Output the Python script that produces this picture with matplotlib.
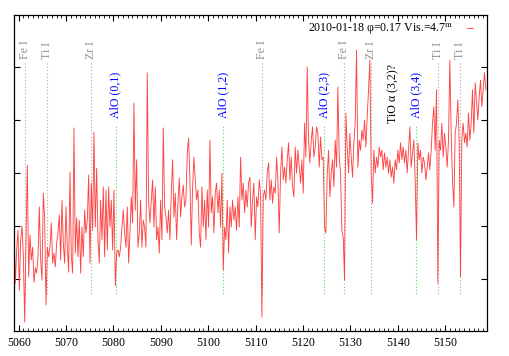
#spectrum plot around 5060-5160 A
#fluxes (arbitrary units)

import numpy as np
import matplotlib
matplotlib.use("Agg")
import matplotlib.pyplot as plt

plt.rcParams['font.family'] = ['Liberation Serif', 'DejaVu Serif']
plt.rcParams['mathtext.fontset'] = 'stix'

#the spectrum, evenly sampled from 5059.0 to 5158.6 A
waveStart = 5059.0
waveEnd = 5158.6
flux = [
    2.02, 0.92, 1.55, 1.92, 0.79, 1.74, 2.00, 1.45, 0.19, 1.74,
    3.15, 1.04, 1.83, 1.36, 1.60, 0.94, 1.21, 1.11, 1.42, 2.36,
    1.36, 0.98, 2.62, 2.15, 0.51, 1.60, 1.42, 1.60, 2.06, 1.30,
    1.49, 1.23, 1.68, 1.87, 2.21, 1.36, 2.49, 1.68, 1.30, 2.36,
    1.60, 1.13, 3.02, 1.42, 1.11, 3.85, 1.49, 2.15, 1.42, 2.11,
    1.11, 1.98, 1.42, 2.30, 1.87, 2.11, 2.96, 1.30, 2.81, 1.92,
    3.77, 1.98, 3.09, 1.74, 1.30, 2.49, 1.74, 2.74, 1.42, 2.68,
    1.55, 2.74, 1.98, 2.49, 1.55, 2.68, 0.87, 1.49, 1.55, 1.42,
    1.60, 1.98, 2.30, 1.87, 1.60, 2.36, 1.30, 1.87, 2.55, 2.06,
    4.32, 2.30, 3.25, 1.60, 1.87, 2.49, 1.60, 2.11, 1.98, 1.60,
    4.89, 2.43, 2.06, 2.49, 2.87, 1.98, 2.74, 1.74, 1.98, 1.49,
    2.49, 1.74, 3.85, 2.36, 2.17, 1.87, 2.30, 1.74, 2.62, 3.25,
    2.17, 2.62, 1.74, 2.43, 2.91, 2.17, 2.55, 2.77, 2.36, 2.49,
    3.38, 3.66, 2.87, 1.64, 2.74, 3.30, 2.87, 2.49, 2.68, 1.87,
    1.60, 2.74, 1.98, 2.49, 1.74, 2.68, 1.98, 3.62, 2.25, 2.55,
    1.87, 2.62, 2.81, 2.25, 2.68, 1.98, 3.00, 1.17, 1.98, 1.74,
    2.49, 1.49, 2.36, 1.98, 2.49, 2.11, 2.36, 1.92, 2.55, 1.98,
    3.30, 2.49, 2.81, 2.25, 2.68, 2.36, 2.81, 2.92, 1.98, 2.49,
    2.81, 1.74, 2.55, 2.36, 2.87, 2.62, 0.28, 2.55, 2.68, 2.49,
    3.00, 3.19, 2.49, 2.87, 2.43, 2.74, 2.62, 3.30, 2.87, 1.87,
    3.00, 3.49, 2.87, 3.11, 2.81, 3.25, 3.57, 2.87, 3.30, 2.74,
    2.55, 3.49, 3.00, 3.43, 3.11, 2.81, 3.25, 2.62, 3.94, 3.30,
    5.00, 3.62, 3.19, 3.62, 3.87, 3.30, 3.49, 3.87, 3.75, 3.11,
    3.68, 3.25, 3.30, 1.98, 1.87, 2.96, 3.43, 2.55, 3.00, 3.25,
    2.74, 3.62, 3.11, 4.62, 3.30, 3.00, 1.92, 1.79, 0.98, 4.13,
    3.49, 3.00, 3.75, 3.30, 2.92, 3.57, 3.94, 5.32, 3.11, 3.62,
    3.43, 3.81, 3.62, 4.00, 3.49, 4.06, 4.57, 5.13, 3.00, 2.43,
    3.43, 3.00, 3.30, 3.11, 3.49, 3.30, 3.43, 3.06, 3.38, 3.11,
    3.30, 3.00, 3.25, 2.92, 3.11, 2.81, 3.25, 3.06, 3.43, 3.19,
    3.57, 3.25, 3.49, 3.19, 3.43, 3.00, 3.43, 3.87, 3.11, 3.38,
    3.62, 2.87, 1.74, 3.57, 3.25, 3.43, 3.00, 3.30, 3.19, 2.87,
    3.11, 3.38, 3.06, 3.43, 3.94, 4.25, 3.43, 4.57, 0.92, 3.62,
    3.43, 3.94, 3.30, 3.75, 3.49, 3.11, 3.62, 5.13, 3.75, 2.87,
    2.36, 3.75, 3.94, 4.38, 3.62, 1.04, 3.62, 3.94, 3.57, 3.75,
    3.49, 4.13, 3.62, 3.94, 4.57, 3.75, 4.70, 4.38, 4.00, 4.43,
    4.75, 4.25, 4.57, 4.89, 4.57,
]
wave = np.linspace(waveStart, waveEnd, len(flux))

#atomic lines (grey) and molecular bands (blue label, green line)
atomNames = ["Fe I", "Ti I", "Zr I", "Fe I", "Fe I", "Zr I", "Ti I", "Ti I"]
atomWaves = [5061.3, 5065.9, 5075.15, 5111.4, 5128.75, 5134.3, 5148.45, 5153.15]
bandNames = ["AlO (0,1)", "AlO (1,2)", "AlO (2,3)", "AlO (3,4)"]
bandWaves = [5080.45, 5103.2, 5124.4, 5143.95]
tioName = "TiO \u03b1 (3,2)?"
tioWave = 5139.0

legendText = "2010-01-18 \u03c6=0.17 Vis.=4.7$^{\\mathrm{m}}$"

fig = plt.figure(figsize=(5.09, 3.56), dpi=100)
ax = fig.add_axes([0.0275, 0.0702, 0.9293, 0.8877])

for w in atomWaves:
    ax.plot([w, w], [0.72, 5.1], color="#a8a8a8", lw=0.8, ls=(0, (1, 2)))
for w in bandWaves:
    ax.plot([w, w], [0.72, 3.9], color="#55dd55", lw=0.8, ls=(0, (1, 2)))

ax.plot(wave, flux, color="#ff3030", lw=0.65, alpha=0.9, label=legendText)

for name, w in zip(atomNames, atomWaves):
    ax.text(w, 5.15, name, rotation=90, ha="center", va="bottom",
            color="#909090", fontsize=8.6)
for name, w in zip(bandNames, bandWaves):
    ax.text(w, 4.04, name, rotation=90, ha="center", va="bottom",
            color="blue", fontsize=8.6)
ax.text(tioWave, 3.95, tioName, rotation=90, ha="center", va="bottom",
        color="black", fontsize=8.6)

ax.set_xlim(5059.05, 5158.85)
ax.set_ylim(0.02, 5.98)
ax.set_xticks(np.arange(5060, 5151, 10))
ax.set_xticks(np.arange(5059, 5159, 1), minor=True)
ax.set_yticks([1, 2, 3, 4, 5])
ax.set_yticklabels([])
ax.tick_params(axis="x", which="major", direction="in", top=True,
               length=4, width=0.8, labelsize=8.6, pad=4)
ax.tick_params(axis="x", which="minor", direction="in", top=True,
               length=2, width=0.6)
ax.tick_params(axis="y", which="major", direction="in", right=True,
               length=4.5, width=0.8)
for s in ax.spines.values():
    s.set_linewidth(0.9)

leg = ax.legend(loc="upper right", bbox_to_anchor=(0.970, 0.977),
                frameon=False, markerfirst=False, borderpad=0,
                borderaxespad=0, handlelength=0.5, handletextpad=1.1,
                fontsize=8.6)

fig.savefig("out.png", dpi=100)
